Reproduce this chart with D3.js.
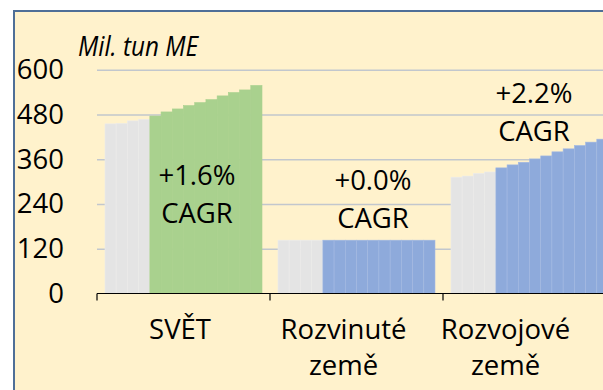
<!DOCTYPE html>
<html>
<head>
<meta charset="utf-8">
<script src="https://cdn.jsdelivr.net/npm/d3@7"></script>
<style>
  html, body { margin: 0; padding: 0; background: #ffffff; }
  svg { display: block; }
  text { font-family: "Open Sans", "Noto Sans", sans-serif; fill: #000; }
</style>
</head>
<body>
<svg id="chart" width="603" height="390"></svg>
<script>
// Regions shown on the category axis
const categories = ["SVĚT", "Rozvinuté země", "Rozvojové země"];

// Years: first four are history (grey), the rest is the outlook
const years = ["2016", "2017", "2018", "2019", "2020", "2021", "2022",
               "2023", "2024", "2025", "2026", "2027", "2028", "2029"];
const historyYears = 4;

// Million tonnes of milk equivalent per region and year
const worldValues     = [455, 456, 463, 467, 476, 487, 495, 504, 512, 520, 530, 539, 546, 558];
const developedValues = [143, 143, 143, 143, 143, 143, 143, 143, 143, 143, 143, 143, 143, 143];
const developingValues= [312, 315, 322, 326, 337, 345, 352, 361, 369, 380, 388, 397, 406, 414];
const seriesValues = [worldValues, developedValues, developingValues];

// Compound annual growth rate of the outlook period
const cagrLabels = ["+1.6%", "+0.0%", "+2.2%"];

const yTicks = [0, 120, 240, 360, 480, 600];
const unitLabel = "Mil. tun ME";

// ---- layout ----
const W = 603, H = 390;
const plot = { left: 97, right: 616, top: 69.8, bottom: 293.5 };
const fontSize = 27.5;
const outlookColors = ["#a9d18e", "#8eaadb", "#8eaadb"];
const outlookStroke = ["#a9d18e", "#a3b9e3", "#a3b9e3"];
const historyColor = "#e4e4e4", historyStroke = "#ececec";
// annotation placement relative to the band centre (px)
const noteLayout = [
  { dx: 13.5, y: 185 },
  { dx: 16.5, y: 190 },
  { dx: 4.5,  y: 103.3 }
];
const noteLineGap = 37.5;
// category label placement relative to the band centre (px)
const catLabelDx = [-3.5, -13, -24];
const catLabelY = 338.5, catLineGap = 36.5;

const svg = d3.select("#chart");

// frame
svg.append("rect")
  .attr("x", 14).attr("y", 11)
  .attr("width", 700).attr("height", 500)
  .attr("fill", "#fff2cc")
  .attr("stroke", "#4f6f97").attr("stroke-width", 2);

const y = d3.scaleLinear().domain([0, 600]).range([plot.bottom, plot.top]);
const x = d3.scaleBand().domain(categories)
  .range([plot.left, plot.right])
  .paddingInner(0.0925).paddingOuter(0.04625);
const xi = d3.scaleBand().domain(years).range([0, x.bandwidth()]).padding(0);

// gridlines
const grid = svg.append("g").attr("transform", `translate(${plot.left},0)`)
  .call(d3.axisLeft(y).tickValues(yTicks.slice(1)).tickSize(-(W - plot.left)).tickFormat(""));
grid.select(".domain").remove();
grid.selectAll(".tick line").attr("stroke", "#c2c7cd").attr("stroke-width", 1.5);

// bars
categories.forEach((cat, ci) => {
  const g = svg.append("g").attr("transform", `translate(${x(cat)},0)`);
  g.selectAll("rect")
    .data(seriesValues[ci].map((v, i) => ({ v, i, year: years[i] })))
    .join("rect")
    .attr("x", d => xi(d.year))
    .attr("width", xi.bandwidth())
    .attr("y", d => y(d.v))
    .attr("height", d => y(0) - y(d.v))
    .attr("fill", d => d.i < historyYears ? historyColor : outlookColors[ci])
    .attr("stroke", d => d.i < historyYears ? historyStroke : outlookStroke[ci])
    .attr("stroke-width", 0.6);
});

// y axis labels
const yAxis = svg.append("g").attr("transform", `translate(${plot.left},0)`)
  .call(d3.axisLeft(y).tickValues(yTicks).tickSize(0).tickPadding(33));
yAxis.select(".domain").remove();
yAxis.selectAll("text")
  .style("font-family", '"Open Sans", "Noto Sans", sans-serif')
  .style("font-size", fontSize + "px").attr("fill", "#000");

// category axis
const xAxis = svg.append("g").attr("transform", `translate(0,${plot.bottom})`);
xAxis.append("line")
  .attr("x1", plot.left).attr("x2", W + 5)
  .attr("stroke", "#000").attr("stroke-width", 1.2);
const boundaries = categories.map(c => x(c) - x.step() * 0.04625);
xAxis.selectAll("line.tick").data(boundaries).join("line")
  .attr("class", "tick")
  .attr("x1", d => d).attr("x2", d => d)
  .attr("y1", 0).attr("y2", 7)
  .attr("stroke", "#000").attr("stroke-width", 1.2);

categories.forEach((cat, ci) => {
  const cx = x(cat) + x.bandwidth() / 2 + catLabelDx[ci];
  const t = svg.append("text")
    .attr("text-anchor", "middle")
    .attr("font-size", fontSize);
  cat.split(" ").forEach((w, li) => {
    t.append("tspan").attr("x", cx).attr("y", catLabelY + li * catLineGap).text(w);
  });
});

// CAGR annotations
categories.forEach((cat, ci) => {
  const cx = x(cat) + x.bandwidth() / 2 + noteLayout[ci].dx;
  const t = svg.append("text").attr("text-anchor", "middle").attr("font-size", fontSize);
  t.append("tspan").attr("x", cx).attr("y", noteLayout[ci].y).text(cagrLabels[ci]);
  t.append("tspan").attr("x", cx).attr("y", noteLayout[ci].y + noteLineGap).text("CAGR");
});

// unit label
svg.append("text")
  .attr("x", 78).attr("y", 56)
  .attr("font-size", fontSize)
  .attr("font-style", "italic")
  .attr("textLength", 120)
  .attr("lengthAdjust", "spacingAndGlyphs")
  .text(unitLabel);
</script>
</body>
</html>
